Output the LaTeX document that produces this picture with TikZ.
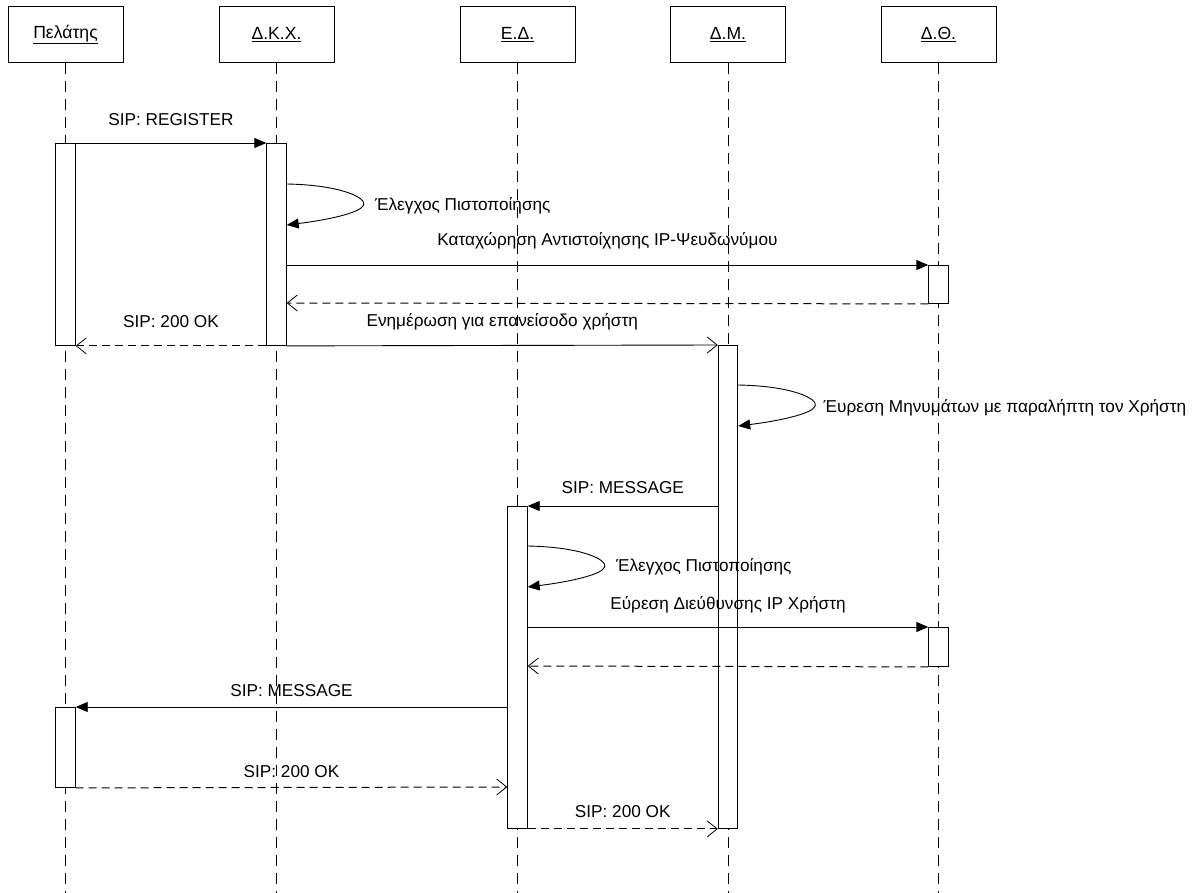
\documentclass[tikz,border=0pt]{standalone}
\usepackage{fontspec}
\setmainfont{Liberation Sans}
\usetikzlibrary{arrows.meta,calc}
\begin{document}
\begin{tikzpicture}[x=1pt,y=-1pt,
  font=\fontsize{17.2}{20}\selectfont,
  line width=0.9pt,
  head/.style={draw, fill=white, minimum width=115pt, minimum height=56pt, anchor=north, inner sep=0pt, font=\fontsize{17.6}{20}\selectfont},
  lifeline/.style={dash pattern=on 11pt off 7pt},
  act/.style={draw, fill=white, minimum width=19.5pt, anchor=north, inner sep=0pt},
  call/.style={-{Triangle[length=12pt,width=10pt]}},
  reply/.style={line width=1pt, dash pattern=on 8pt off 5pt, -{Straight Barb[length=10pt,width=16pt,line width=0.8pt]}},
  note/.style={-{Straight Barb[length=10pt,width=16pt,line width=0.8pt]}},
  lbl/.style={inner sep=0pt},
  loopl/.style={inner sep=0pt, anchor=west}
]
\useasboundingbox (0,0) rectangle (1197,893);
\coordinate (bot) at (0,893);

% participants
\node[head] (hp) at (65.5,6) {\underline{Πελάτης}};
\node[head] (hk) at (276.5,6) {\underline{Δ.Κ.Χ.}};
\node[head] (he) at (517.5,6) {\underline{Ε.Δ.}};
\node[head] (hm) at (728,6) {\underline{Δ.Μ.}};
\node[head] (ht) at (938.5,6) {\underline{Δ.Θ.}};

% lifelines
\foreach \h in {hp,hk,he,hm,ht}
  \draw[lifeline] (\h.south) -- (\h.south |- bot);

% activation bars
\node[act, minimum height=202pt] (p1) at (65.5,143) {};
\node[act, minimum height=202pt] (k1) at (276.5,143) {};
\node[act, minimum height=38pt]  (t1) at (938.5,265) {};
\node[act, minimum height=483pt] (m1) at (728,345) {};
\node[act, minimum height=322pt] (e1) at (517.5,506) {};
\node[act, minimum height=39pt]  (t2) at (938.5,627) {};
\node[act, minimum height=80pt]  (p2) at (65.5,707) {};

% registration
\draw[call] (p1.north east) -- (k1.north west);
\node[lbl] (l1) at ($(p1.north east)!0.5!(k1.north west)+(0,-23)$) {SIP: REGISTER};

\coordinate (k1a) at ($(k1.north east)+(0,41)$);
\coordinate (k1b) at ($(k1.north east)+(0,82)$);
\draw[call] (k1a) .. controls ($(k1a)+(55,1)$) and ($(k1a)+(80,14)$) .. ($(k1a)+(77,21)$)
  .. controls ($(k1a)+(74,29)$) and ($(k1a)+(40,36)$) .. (k1b);
\node[loopl] (l2) at ($(k1a)+(88,22)$) {Έλεγχος Πιστοποίησης};

\coordinate (k1c) at ($(k1.north east)+(0,122)$);
\coordinate (k1d) at ($(k1.north east)+(0,160)$);
\draw[call] (k1c) -- (t1.north west);
\node[lbl] (l3) at ($(k1c)!0.5!(t1.north west)+(0,-24)$) {Καταχώρηση Αντιστοίχησης IP-Ψευδωνύμου};
\draw[reply] (t1.south west) -- (k1d);

\draw[reply] (k1.south west) -- (p1.south east);
\node[lbl] (l4) at ($(k1.south west)!0.5!(p1.south east)+(0,-24)$) {SIP: 200 OK};

\draw[note] (k1.south east) -- (m1.north west);
\node[lbl] (l5) at ($(k1.south east)!0.5!(m1.north west)+(0,-24)$) {Ενημέρωση για επανείσοδο χρήστη};

% pending messages
\coordinate (m1a) at ($(m1.north east)+(0,40)$);
\coordinate (m1b) at ($(m1.north east)+(0,81)$);
\draw[call] (m1a) .. controls ($(m1a)+(55,1)$) and ($(m1a)+(80,14)$) .. ($(m1a)+(77,21)$)
  .. controls ($(m1a)+(74,29)$) and ($(m1a)+(40,36)$) .. (m1b);
\node[loopl] (l6) at ($(m1a)+(85,23)$) {Έυρεση Μηνυμάτων με παραλήπτη τον Χρήστη};

\coordinate (m1c) at ($(m1.north west)+(0,161)$);
\draw[call] (m1c) -- (e1.north east);
\node[lbl] (l7) at ($(m1c)!0.5!(e1.north east)+(0,-18)$) {SIP: MESSAGE};

% delivery
\coordinate (e1a) at ($(e1.north east)+(0,40)$);
\coordinate (e1b) at ($(e1.north east)+(0,81)$);
\draw[call] (e1a) .. controls ($(e1a)+(55,1)$) and ($(e1a)+(80,14)$) .. ($(e1a)+(77,21)$)
  .. controls ($(e1a)+(74,29)$) and ($(e1a)+(40,36)$) .. (e1b);
\node[loopl] (l8) at ($(e1a)+(88,21)$) {Έλεγχος Πιστοποίησης};

\coordinate (e1c) at ($(e1.north east)+(0,121)$);
\coordinate (e1d) at ($(e1.north east)+(0,160)$);
\draw[call] (e1c) -- (t2.north west);
\node[lbl] (l9) at ($(e1c)!0.5!(t2.north west)+(0,-22)$) {Εύρεση Διεύθυνσης IP Χρήστη};
\draw[reply] (t2.south west) -- (e1d);

\coordinate (e1e) at ($(e1.north west)+(0,201)$);
\coordinate (e1f) at ($(e1.north west)+(0,281)$);
\draw[call] (e1e) -- (p2.north east);
\node[lbl] (l10) at ($(e1e)!0.5!(p2.north east)+(0,-16)$) {SIP: MESSAGE};

\draw[reply] (p2.south east) -- (e1f);
\node[lbl] (l11) at ($(p2.south east)!0.5!(e1f)+(0,-16)$) {SIP: 200 OK};

\draw[reply] (e1.south east) -- (m1.south west);
\node[lbl] (l12) at ($(e1.south east)!0.5!(m1.south west)+(0,-17)$) {SIP: 200 OK};
\end{tikzpicture}
\end{document}
